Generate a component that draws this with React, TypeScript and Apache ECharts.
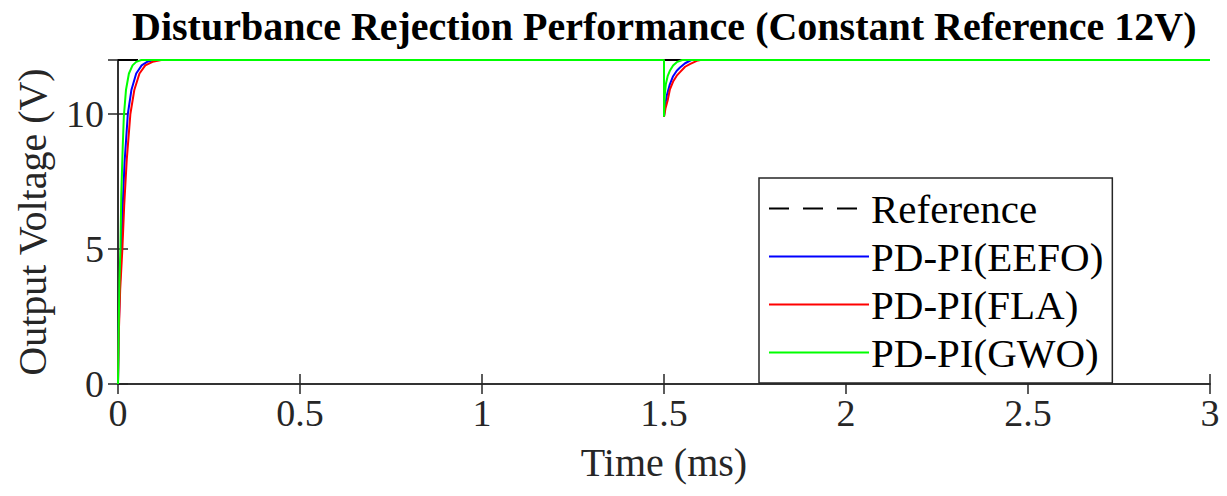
import React, { useEffect, useRef } from "react";
import * as echarts from "echarts";

const titleText = "Disturbance Rejection Performance (Constant Reference 12V)";
const xName = "Time (ms)";
const yName = "Output Voltage (V)";
const seriesNames = ["Reference", "PD-PI(EEFO)", "PD-PI(FLA)", "PD-PI(GWO)"];

const refT = [0, 3];
const refV = [12, 12];

const eefoT = [0, 0.002, 0.005, 0.009, 0.013, 0.018, 0.027, 0.037, 0.05, 0.065, 0.08, 0.1, 1.5, 1.5, 1.503, 1.508, 1.516, 1.525, 1.535, 1.544, 1.558, 1.575, 3];
const eefoV = [0, 2, 3.6, 5, 6.6, 8.2, 10, 10.9, 11.5, 11.8, 11.93, 12, 12, 9.9, 10.3, 10.7, 11.1, 11.4, 11.6, 11.72, 11.88, 12, 12];

const flaT = [0, 0.002, 0.006, 0.012, 0.017, 0.024, 0.034, 0.045, 0.059, 0.075, 0.095, 0.119, 1.5, 1.5, 1.504, 1.51, 1.516, 1.525, 1.535, 1.544, 1.558, 1.571, 1.59, 1.6, 3];
const flaV = [0, 1.8, 3.5, 5, 6.6, 8.3, 10, 10.9, 11.5, 11.8, 11.93, 12, 12, 9.9, 10.2, 10.5, 10.9, 11.2, 11.42, 11.55, 11.75, 11.85, 11.97, 12, 12];

const gwoT = [0, 0.002, 0.004, 0.0066, 0.009, 0.013, 0.016, 0.022, 0.03, 0.04, 0.05, 0.064, 1.5, 1.5, 1.502, 1.505, 1.51, 1.516, 1.525, 1.535, 1.55, 3];
const gwoV = [0, 2.2, 3.8, 5, 7, 8.8, 9.9, 10.9, 11.5, 11.8, 11.93, 12, 12, 9.9, 10.7, 11.1, 11.4, 11.6, 11.8, 11.92, 12, 12];

const xTicks = [0, 0.5, 1, 1.5, 2, 2.5, 3];
const yTicks = [0, 5, 10];

const zip = (t: number[], v: number[]) => t.map((x, i) => [x, v[i]]);

const FONT = "Liberation Serif";
const AXIS_COLOR = "#262626";

export default function App() {
  const ref = useRef<HTMLDivElement>(null);
  useEffect(() => {
    if (!ref.current) return;
    const chart = echarts.init(ref.current, undefined, { renderer: "svg" });
    const baseAxis = {
      axisLine: { show: true, lineStyle: { color: AXIS_COLOR, width: 1.5 } },
      axisTick: { show: true, inside: true, length: 10, lineStyle: { color: AXIS_COLOR, width: 1.5 } },
      splitLine: { show: false },
    };
    const lineSeries = (name: string, data: number[][], color: string, type: any) => ({
      name,
      type: "line",
      data,
      symbol: "none",
      showSymbol: false,
      lineStyle: { color, width: 2, type },
      itemStyle: { color },
    });
    chart.setOption({
      animation: false,
      backgroundColor: "#ffffff",
      graphic: [
        {
          type: "text",
          left: 132,
          top: 6,
          style: {
            text: titleText,
            font: `bold 40px "${FONT}"`,
            fill: "#000000",
          },
        },
      ],
      grid: { left: 118, right: 17, top: 60, bottom: 112, containLabel: false },
      legend: {
        left: 759,
        top: 178,
        orient: "vertical",
        padding: [10, 9, 10, 9],
        itemGap: 7,
        itemWidth: 100,
        itemHeight: 14,
        borderColor: "#262626",
        borderWidth: 1.5,
        borderRadius: 0,
        backgroundColor: "#ffffff",
        data: seriesNames,
        itemStyle: { opacity: 0 },
        textStyle: { fontFamily: FONT, fontSize: 41, color: "#000000", lineHeight: 40, padding: [0, 0, 0, -3] },
      },
      xAxis: [
        {
          ...baseAxis,
          type: "value",
          min: 0,
          max: 3,
          interval: 0.5,
          name: xName,
          nameLocation: "middle",
          nameGap: 58,
          nameTextStyle: { fontFamily: FONT, fontSize: 40, color: "#262626" },
          axisLabel: {
            fontFamily: FONT,
            fontSize: 38,
            color: "#262626",
            margin: 10,
            formatter: (v: number) => (xTicks.includes(v) ? String(v) : ""),
          },
        },
        {
          ...baseAxis,
          type: "value",
          position: "top",
          min: 0,
          max: 3,
          interval: 0.5,
          axisLabel: { show: false },
        },
      ],
      yAxis: [
        {
          ...baseAxis,
          type: "value",
          min: 0,
          max: 12,
          interval: 5,
          name: yName,
          nameLocation: "middle",
          nameGap: 66,
          nameTextStyle: { fontFamily: FONT, fontSize: 40, color: "#262626" },
          axisLabel: {
            fontFamily: FONT,
            fontSize: 38,
            color: "#262626",
            margin: 14,
            formatter: (v: number) => (yTicks.includes(v) ? String(v) : ""),
          },
        },
        {
          ...baseAxis,
          type: "value",
          position: "right",
          min: 0,
          max: 12,
          interval: 5,
          axisLabel: { show: false },
        },
      ],
      series: [
        lineSeries(seriesNames[0], zip(refT, refV), "#000000", [20, 14]),
        lineSeries(seriesNames[1], zip(eefoT, eefoV), "#0000ff", "solid"),
        lineSeries(seriesNames[2], zip(flaT, flaV), "#ff0000", "solid"),
        lineSeries(seriesNames[3], zip(gwoT, gwoV), "#00ff00", "solid"),
      ],
    });
    return () => chart.dispose();
  }, []);
  return (
    <div
      ref={ref}
      style={{ position: "fixed", left: 0, top: 0, width: 1227, height: 496, background: "#fff" }}
    />
  );
}
